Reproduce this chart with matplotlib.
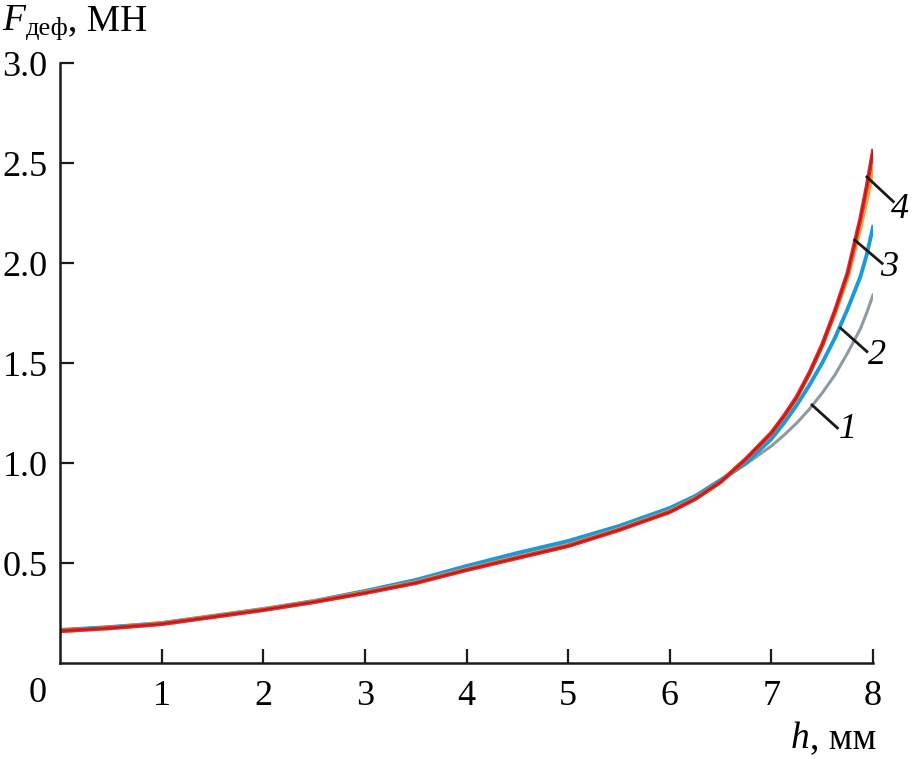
import numpy as np
import matplotlib.pyplot as plt
import matplotlib

matplotlib.rcParams['font.family'] = ['Liberation Serif', 'DejaVu Serif']

# deformation h, mm
h = [0, 0.5, 1, 1.5, 2, 2.5, 3, 3.5, 4, 4.5, 5, 5.5, 6, 6.25, 6.5, 6.75, 7, 7.125, 7.25, 7.375,
     7.5, 7.625, 7.75, 7.875, 7.9375, 8]
# force F, MN for curves 1..4
f1 = [0.165, 0.18, 0.2, 0.235, 0.27, 0.31, 0.36, 0.415, 0.48, 0.545, 0.605, 0.68, 0.77, 0.83, 0.91, 0.995,
      1.085, 1.14, 1.2, 1.27, 1.35, 1.44, 1.55, 1.67, 1.75, 1.84]
f2 = [0.165, 0.18, 0.2, 0.235, 0.27, 0.31, 0.36, 0.415, 0.485, 0.55, 0.61, 0.685, 0.775, 0.835, 0.915, 1.0,
      1.12, 1.2, 1.29, 1.39, 1.5, 1.625, 1.77, 1.93, 2.04, 2.18]
f3 = [0.16, 0.175, 0.197, 0.232, 0.267, 0.307, 0.353, 0.403, 0.468, 0.528, 0.588, 0.668, 0.758, 0.822, 0.905,
      1.02, 1.15, 1.235, 1.33, 1.45, 1.59, 1.75, 1.93, 2.18, 2.32, 2.47]
f4 = [0.16, 0.175, 0.195, 0.23, 0.265, 0.305, 0.35, 0.4, 0.465, 0.525, 0.585, 0.665, 0.755, 0.82, 0.905,
      1.02, 1.15, 1.235, 1.33, 1.45, 1.59, 1.76, 1.95, 2.22, 2.38, 2.56]

labels = ['1', '2', '3', '4']
# leader lines: start on curve, end, label position
lead_start = [(7.40, 1.29), (7.68, 1.675), (7.82, 2.115), (7.94, 2.43)]
lead_end = [(7.65, 1.175), (7.94, 1.557), (8.09, 1.998), (8.20, 2.307)]
lab_pos = [(7.66, 1.165), (7.95, 1.54), (8.07, 1.975), (8.18, 2.265)]

fig = plt.figure(figsize=(9.13, 7.59), dpi=100)
ax = fig.add_axes([60/913, 96/759, 813/913, 600/759])

ax.plot(h, f1, color='#8e9aa2', lw=2.2)
ax.plot(h, f2, color='#1a9ad6', lw=2.8)
ax.plot(h, f3, color='#f4a23a', lw=3.2)
ax.plot(h, f4, color='#e62a2a', lw=3.0)
ax.plot(h, f4, color='#7a1414', lw=0.9, alpha=0.6)

for lab, s, e, p in zip(labels, lead_start, lead_end, lab_pos):
    ax.plot([s[0], e[0]], [s[1], e[1]], color='#1a1a1a', lw=2.0, clip_on=False)
    ax.text(p[0], p[1], lab, fontsize=26, style='italic', ha='left', va='center')

ax.set_xlim(0, 8)
ax.set_ylim(0, 3.0)
ax.set_xticks(range(1, 9))
ax.set_yticks([0.5, 1.0, 1.5, 2.0, 2.5, 3.0])
ax.set_yticklabels(['0.5', '1.0', '1.5', '2.0', '2.5', '3.0'])
ax.spines['top'].set_visible(False)
ax.spines['right'].set_visible(False)
for s in ['left', 'bottom']:
    ax.spines[s].set_linewidth(1.8)
    ax.spines[s].set_color('#1a1a1a')
ax.tick_params(direction='in', length=10, width=1.6, labelsize=26, color='#1a1a1a')
ax.tick_params(axis='x', pad=12)
ax.tick_params(axis='y', pad=9)

fig.text(38/913, 1 - 693/759, '0', fontsize=26, ha='center', va='center')
fig.text(2/913, 1 - 30/759, 'F', fontsize=27, style='italic', ha='left', va='baseline')
fig.text(26/913, 1 - 35/759, 'деф', fontsize=19, ha='left', va='baseline')
fig.text(68/913, 1 - 30/759, ', МН', fontsize=27, ha='left', va='baseline')
fig.text(791/913, 1 - 748/759, 'h', fontsize=27, style='italic', ha='left', va='baseline')
fig.text(810/913, 1 - 748/759, ', мм', fontsize=27, ha='left', va='baseline')

fig.savefig('out.png', dpi=100)
